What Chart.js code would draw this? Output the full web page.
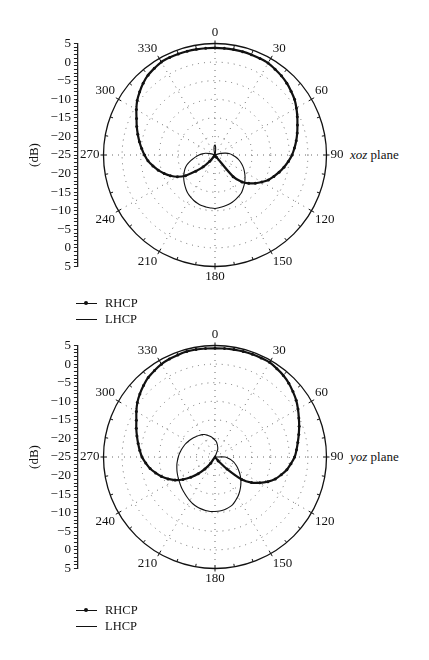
<!DOCTYPE html>
<html>
<head>
<meta charset="utf-8">
<title>RHCP / LHCP patterns, xoz and yoz planes</title>
<script src="https://cdn.jsdelivr.net/npm/chart.js@4.4.1/dist/chart.umd.min.js"></script>
<style>
  body { margin: 0; background: #fff; }
  #page { position: relative; width: 429px; height: 660px; overflow: hidden;
          font-family: 'Liberation Serif', 'Times New Roman', serif; color: #111; }
  canvas { position: absolute; }
  .plane { position: absolute; font-size: 13px; line-height: 16px; white-space: nowrap; }
  .legend { position: absolute; font-size: 12.5px; }
  .legend .row { display: flex; align-items: center; height: 16px; }
  .legend .mark { position: relative; width: 21px; height: 0; border-top: 1.2px solid #111; margin-right: 8px; }
  .legend .dot { position: absolute; left: 8px; top: -3px; width: 4px; height: 4px; border-radius: 50%; background: #111; }
</style>
</head>
<body>
<div id="page">
  <canvas id="axisXoz"></canvas>
  <canvas id="polarXoz" width="270" height="270" style="left:77px;top:20px"></canvas>
  <div class="plane" style="left:350px;top:147px"><i>xoz</i> plane</div>
  <div class="legend" id="legendXoz" style="left:76px;top:295px"></div>

  <canvas id="axisYoz"></canvas>
  <canvas id="polarYoz" width="270" height="270" style="left:77px;top:322px"></canvas>
  <div class="plane" style="left:350px;top:449px"><i>yoz</i> plane</div>
  <div class="legend" id="legendYoz" style="left:76px;top:602px"></div>
</div>
<script>
// ─── DATA ───────────────────────────────────────────────────────────────────────
// angle in degrees, clockwise from the top; gain in dB (centre of the plot = -25 dB)
var angles = [0, 5, 10, 15, 20, 25, 30, 35, 40, 45, 50, 55,
    60, 65, 70, 75, 80, 85, 90, 95, 100, 105, 110, 115,
    120, 125, 130, 135, 140, 145, 150, 155, 160, 165, 170, 175,
    180, 185, 190, 195, 200, 205, 210, 215, 220, 225, 230, 235,
    240, 245, 250, 255, 260, 265, 270, 275, 280, 285, 290, 295,
    300, 305, 310, 315, 320, 325, 330, 335, 340, 345, 350, 355];

var xozRhcp = [3.8, 3.8, 3.8, 3.78, 3.7, 3.65, 3.57, 3.18, 2.8, 2.32, 1.72, 1.12,
    0.29, -0.57, -1.4, -2.1, -2.81, -3.54, -4.27, -5.18, -6.16, -7.15, -8.15, -9.15,
    -10.45, -11.76, -13.15, -14.7, -17.4, -24.3, -25, -25, -25, -25, -25, -25,
    -25, -25, -25, -25, -25, -25, -25, -24.6, -22.8, -20.5, -18.25, -15.3,
    -13.3, -11.77, -10.46, -9.2, -8.05, -6.9, -6.04, -5.2, -4.35, -3.49, -2.6, -1.7,
    -0.57, 0.56, 1.46, 2.34, 3.04, 3.46, 3.88, 3.92, 3.91, 3.9, 3.87, 3.83];

var xozLhcp = [-22.3, -23.0, -24.3, -25, -25, -25, -25, -25, -25, -25, -25, -25,
    -25, -25, -24.5, -23.3, -22.1, -21.0, -20.3, -19.5, -18.67, -17.95, -17.2, -16.5,
    -15.83, -15.15, -14.48, -13.85, -13.25, -12.6, -12.2, -11.8, -11.45, -11.18, -11.0, -10.8,
    -10.6, -10.7, -10.8, -10.9, -11.18, -11.5, -11.9, -12.33, -12.9, -13.5, -14.1, -14.72,
    -15.4, -16.07, -16.88, -17.9, -18.98, -19.87, -20.7, -21.56, -22.4, -23.6, -24.5, -25,
    -25, -25, -25, -25, -25, -25, -25, -25, -25, -24.5, -23.5, -22.6];

var yozRhcp = [4.25, 4.3, 4.35, 4.39, 4.4, 4.4, 4.4, 4.02, 3.63, 3.08, 2.37, 1.66,
    0.78, -0.11, -0.9, -1.67, -2.38, -2.98, -3.57, -4.48, -5.38, -6.55, -7.74, -9.3,
    -11.1, -13.0, -15.6, -20.4, -23.7, -25, -25, -25, -25, -25, -25, -25,
    -25, -25, -25, -25, -25, -25, -25, -22.96, -20.8, -18.6, -16.5, -14.46,
    -12.59, -11.07, -9.67, -8.47, -7.27, -6.3, -5.36, -4.68, -4.0, -3.26, -2.46, -1.65,
    -0.57, 0.51, 1.39, 2.2, 2.94, 3.38, 3.83, 4.07, 4.23, 4.39, 4.37, 4.3];

var yozLhcp = [-20.47, -20.9, -21.55, -22.2, -22.9, -25, -25, -25, -25, -25, -25, -25,
    -25, -25, -25, -25, -25, -25, -22.3, -21.45, -20.6, -19.83, -19.1, -18.34,
    -17.6, -16.78, -15.96, -15.14, -14.32, -13.5, -12.7, -12.0, -11.3, -10.9, -10.6, -10.4,
    -10.34, -10.28, -10.36, -10.55, -10.74, -11.05, -11.45, -11.86, -12.26, -12.6, -12.96, -13.32,
    -13.6, -13.86, -14.11, -14.37, -14.6, -14.87, -15.12, -15.37, -15.63, -15.88, -16.13, -16.39,
    -16.65, -16.9, -17.16, -17.42, -17.63, -17.84, -18.05, -18.34, -18.74, -19.14, -19.53, -20.0];

// side scale labels, top to bottom (value -30..30 on the axis, 5 dB apart)
var dbLabels = ['5', '0', '\u22125', '\u221210', '\u221215', '\u221220', '\u221225',
    '\u221220', '\u221215', '\u221210', '\u22125', '0', '5'];

var seriesNames = ['RHCP', 'LHCP'];

// ─── STYLE ──────────────────────────────────────────────────────────────────────
var SERIF = "'Liberation Serif', 'Times New Roman', serif";
var INK = '#111';
var DOTS = '#6a6a6a';
var AXIS_X = 77.5;     // where the side dB line sits
var AXIS_PAD = 12;

// small marks on the rim every 10 deg, longer ones every 30 deg
var rimTicks = {
    id: 'rimTicks',
    afterDatasetsDraw: function (chart) {
        var r = chart.scales.r;
        var ctx = chart.ctx;
        ctx.save();
        ctx.strokeStyle = INK;
        ctx.lineWidth = 1;
        for (var i = 0; i < angles.length; i += 2) {
            var major = i % 6 === 0;
            var a = r.getPointPosition(i, r.drawingArea - 3);
            var b = r.getPointPosition(i, r.drawingArea + (major ? 3 : 0));
            ctx.beginPath();
            ctx.moveTo(a.x, a.y);
            ctx.lineTo(b.x, b.y);
            ctx.stroke();
        }
        ctx.restore();
    }
};

function polarChart(canvasId, rhcp, lhcp) {
    var outer = function (c) { return c.tick && c.tick.value === 5; };
    return new Chart(document.getElementById(canvasId), {
        type: 'radar',
        data: {
            labels: angles,
            datasets: [{
                label: seriesNames[0],
                data: rhcp,
                borderColor: INK,
                borderWidth: 2.2,
                pointRadius: function (c) { return c.raw > -25 ? 1.5 : 0; },
                pointBackgroundColor: INK,
                pointBorderWidth: 0,
                fill: false,
                tension: 0.3
            }, {
                label: seriesNames[1],
                data: lhcp,
                borderColor: INK,
                borderWidth: 1.1,
                pointRadius: 0,
                fill: false,
                tension: 0.3
            }]
        },
        options: {
            responsive: false,
            animation: false,
            events: [],
            plugins: { legend: { display: false }, tooltip: { enabled: false } },
            scales: {
                r: {
                    min: -25,
                    max: 5,
                    ticks: { display: false, stepSize: 5 },
                    grid: {
                        circular: true,
                        color: function (c) { return outer(c) ? INK : DOTS; },
                        lineWidth: function (c) { return outer(c) ? 1.3 : 1; },
                        borderDash: function (c) { return outer(c) ? [] : [1, 5]; }
                    },
                    border: {
                        dash: function (c) { return outer(c) ? [] : [1, 5]; }
                    },
                    angleLines: {
                        color: DOTS,
                        lineWidth: function (c) { return c.index % 6 === 0 ? 1 : 0; },
                        borderDash: [1, 5]
                    },
                    pointLabels: {
                        padding: 4,
                        color: INK,
                        font: { family: SERIF, size: 13, lineHeight: 1 },
                        callback: function (label, i) { return i % 6 === 0 ? String(label) : ''; }
                    }
                }
            }
        },
        plugins: [rimTicks]
    });
}

// the mirrored dB scale on the left, lined up with the polar radius
function sideAxis(canvasId, polar) {
    var r = polar.scales.r;
    var canvas = document.getElementById(canvasId);
    var top = parseFloat(polar.canvas.style.top) + r.yCenter - r.drawingArea;
    var frac = top - Math.floor(top);
    canvas.width = 110;
    canvas.height = Math.ceil(2 * r.drawingArea + 2 * AXIS_PAD + frac);
    canvas.style.top = (Math.floor(top) - AXIS_PAD) + 'px';
    var chart = new Chart(canvas, {
        type: 'scatter',
        data: { datasets: [] },
        options: {
            responsive: false,
            animation: false,
            events: [],
            layout: { padding: { top: AXIS_PAD + frac, bottom: canvas.height - AXIS_PAD - frac - 2 * r.drawingArea, left: 0, right: 2 } },
            plugins: { legend: { display: false }, tooltip: { enabled: false } },
            scales: {
                x: { display: false },
                y: {
                    min: -30,
                    max: 30,
                    ticks: {
                        stepSize: 1,
                        autoSkip: false,
                        padding: 3,
                        color: INK,
                        font: { family: SERIF, size: 13 },
                        callback: function (v) { return v % 5 === 0 ? dbLabels[(30 - v) / 5] : ''; }
                    },
                    grid: { drawOnChartArea: false, tickLength: 4, color: '#222' },
                    border: { color: '#222', width: 1.3 },
                    title: {
                        display: true,
                        text: '(dB)',
                        color: INK,
                        font: { family: SERIF, size: 13 },
                        padding: { top: 0, bottom: 5 }
                    }
                }
            }
        }
    });
    canvas.style.left = Math.round(AXIS_X - chart.chartArea.left) + 'px';
    return chart;
}

function htmlLegend(chart, boxId) {
    var box = document.getElementById(boxId);
    chart.data.datasets.forEach(function (ds) {
        var row = document.createElement('div');
        row.className = 'row';
        var mark = document.createElement('span');
        mark.className = 'mark';
        if (ds.pointRadius !== 0) {
            var dot = document.createElement('span');
            dot.className = 'dot';
            mark.appendChild(dot);
        }
        row.appendChild(mark);
        row.appendChild(document.createTextNode(ds.label));
        box.appendChild(row);
    });
}

// ─── BUILD ──────────────────────────────────────────────────────────────────────
var xoz = polarChart('polarXoz', xozRhcp, xozLhcp);
var yoz = polarChart('polarYoz', yozRhcp, yozLhcp);
sideAxis('axisXoz', xoz);
sideAxis('axisYoz', yoz);
htmlLegend(xoz, 'legendXoz');
htmlLegend(yoz, 'legendYoz');
</script>
</body>
</html>
